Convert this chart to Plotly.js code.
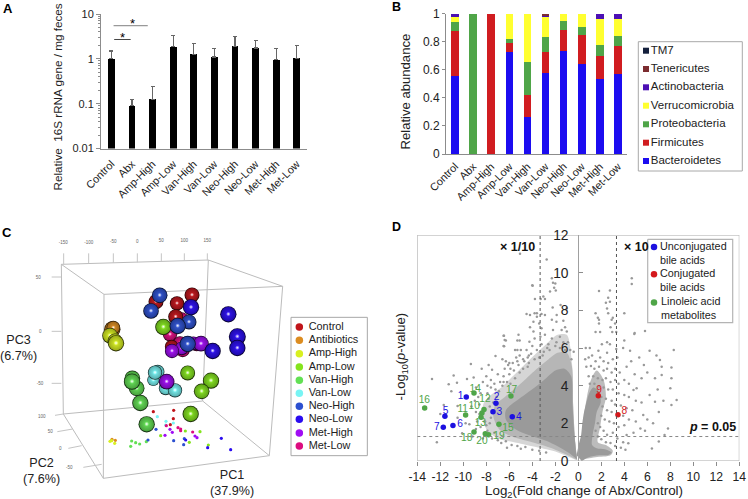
<!DOCTYPE html>
<html><head><meta charset="utf-8">
<script src="https://cdn.plot.ly/plotly-3.0.1.min.js"></script>
<style>html,body{margin:0;padding:0;background:#fff}#c{width:748px;height:499px}</style>
</head><body><div id="c"></div>
<script>
// ---------- Panel A ----------
const groups = ['Control','Abx','Amp-High','Amp-Low','Van-High','Van-Low','Neo-High','Neo-Low','Met-High','Met-Low'];
const rrnaMean = [1,0.09,0.125,1.85,1.27,1.1,1.9,1.75,0.95,1.02];
const rrnaTop  = [1.5,0.125,0.24,3.25,2.2,1.68,3.15,2.55,1.68,2.0];
const sigLowX = [0.14,0.94], sigLowY = [2.7,2.7];
const sigHighX = [0.11,1.77], sigHighY = [5.5,5.5];
const decadeVals = [0.01,0.1,1,10], decadeText = ['0.01','0.1','1','10'];
const minorVals = [0.02,0.03,0.04,0.05,0.06,0.07,0.08,0.09,0.2,0.3,0.4,0.5,0.6,0.7,0.8,0.9,2,3,4,5,6,7,8,9];
// ---------- Panel B ----------
const phyla = ['Bacteroidetes','Firmicutes','Proteobacteria','Verrucomicrobia','Actinobacteria','Tenericutes','TM7'];
const phylaColors = ['#1c0cf0','#d01c20','#4fa548','#ffff30','#4c10b4','#7c2c30','#14203c'];
const bacteroidetes   = [0.555,0.003,0.003,0.725,0.265,0.575,0.735,0.64,0.535,0.57];
const firmicutes      = [0.32,0,0.992,0.065,0.155,0.155,0.15,0.205,0.16,0.2];
const proteobacteria  = [0.065,0.997,0.005,0.03,0.235,0.105,0.06,0.06,0.085,0.07];
const verrucomicrobia = [0.04,0,0,0.18,0.345,0.145,0.055,0.095,0.18,0.12];
const actinobacteria  = [0.02,0,0,0,0,0.005,0,0,0.04,0.04];
const tenericutes     = [0,0,0,0,0,0.012,0,0,0,0];
const tm7             = [0,0,0,0,0,0.003,0,0,0,0];
const phylaValues = [bacteroidetes,firmicutes,proteobacteria,verrucomicrobia,actinobacteria,tenericutes,tm7];
const abundanceTicks = [0,0.2,0.4,0.6,0.8,1];
// ---------- Panel C: projected positions [x, y, apparent diameter] ----------
const pcaGroups = ['Control','Antibiotics','Amp-High','Amp-Low','Van-High','Van-Low','Neo-High','Neo-Low','Met-High','Met-Low'];
const pcaColors = {'Control':'#c0141a','Antibiotics':'#dc8c20','Amp-High':'#d8f020','Amp-Low':'#84e41e','Van-High':'#62e054','Van-Low':'#78f4f4','Neo-High':'#2c50d0','Neo-Low':'#2a0cf0','Met-High':'#a00cf4','Met-Low':'#dc0c80'};
const spheresControl = [[576,240,44],[468,260,44],[531,265,42],[527,305,44],[515,395,40]];
const spheresAntibiotics = [[337,343,48],[340,338,40]];
const spheresAmpHigh = [[330,362,46],[345,378,44],[348,385,48]];
const spheresAmpLow = [[490,336,48],[563,474,44],[633,497,48],[605,529,46],[572,597,48]];
const spheresVanHigh = [[397,490,46],[410,520,46],[396,500,48],[421,564,48],[440,628,48]];
const spheresVanLow = [[473,470,40],[460,495,36],[465,473,42],[497,520,40],[525,526,42]];
const spheresNeoHigh = [[479,241,46],[453,288,46],[567,321,44],[533,333,48],[563,387,48]];
const spheresNeoLow = [[573,277,48],[685,298,48],[712,365,50],[712,399,48],[638,408,48]];
const spheresMetHigh = [[545,400,40],[580,385,40],[603,386,46],[516,408,42],[500,500,46]];
const spheresMetLow = [[545,312,40],[510,358,42],[540,385,42],[590,388,40],[548,405,42]];
const sphereOrder = [['Van-Low',spheresVanLow],['Van-High',spheresVanHigh],['Met-Low',spheresMetLow],['Control',spheresControl],['Amp-Low',spheresAmpLow],['Met-High',spheresMetHigh],['Neo-Low',spheresNeoLow],['Neo-High',spheresNeoHigh],['Antibiotics',spheresAntibiotics],['Amp-High',spheresAmpHigh]];
const floorPoints = {
 'Control':[[460,590],[521,586],[520,611],[511,629]],
 'Antibiotics':[[336,673],[346,676]],
 'Amp-High':[[330,679],[335,677],[344,685]],
 'Amp-Low':[[482,662],[556,648],[600,650],[568,682],[625,690]],
 'Van-High':[[395,678],[407,683],[419,687],[392,694],[439,680]],
 'Van-Low':[[472,605],[498,619],[520,624],[497,630]],
 'Neo-High':[[468,643],[444,675],[521,677],[553,671],[551,689]],
 'Neo-Low':[[557,675],[664,670],[692,704],[623,698]],
 'Met-High':[[510,643],[517,652],[495,661],[585,663],[591,668]],
 'Met-Low':[[499,632],[534,638],[542,642],[542,647],[578,651]]
};
const boxX = [184,625,848,312,184,null,312,310,808,848,null,625,608,190,184,null,190,310,null,608,808];
const boxY = [148,135,214,238,148,null,238,790,722,214,null,135,558,597,148,null,597,790,null,558,722];
const cTickX = [191,191,null,266,266,null,340,340,null,412,412,null,484,484,null,553,553,null,622,622,null,155,184,null,155,184,null,155,184,null,165,190,null,172,218,null,205,245,null,250,305];
const cTickY = [148,115,null,146,115,null,144,115,null,142,115,null,140,115,null,138,115,null,136,115,null,186,186,null,349,349,null,505,505,null,601,597,null,650,642,null,700,692,null,757,748];
const cTickLabelX = [190,266,340,412,484,553,622,115,121,120,125,151,181,208];
const cTickLabelY = [84,84,82,80,79,78,77,190,352,508,605,652,703,760];
const cTickLabels = ['-150','-100','-50','0','50','100','150','50','0','-50','100','50','0','-50'];
const cKeyY = [336,376,416,456,496,535,574,613,654,693];
// ---------- Panel D ----------
const volcanoTicksX = [-14,-12,-10,-8,-6,-4,-2,0,2,4,6,8,10,12,14];
const volcanoTicksXText = ['-14','-12','-10','-8','-6','-4','-2','0','2','4','6','8','10','12','14'];
const volcanoTicksY = [0,2,4,6,8,10,12];
const outerLeftX = [-0.1,-1,-2,-3,-4,-5,-6,-7,-7.9,-8.4,-8.2,-7.6,-6.7,-5.7,-4.7,-3.7,-2.8,-1.8,-1,-0.55,-0.45,-0.3];
const outerLeftY = [0.03,0.25,0.5,0.65,0.78,0.92,1.05,1.2,1.6,2.4,3.1,3.5,3.9,4.5,5.1,5.7,6.2,6.7,6.7,5.2,3,1.2];
const haloLeftX = [-0.1,-1,-2,-3,-4,-5,-6,-6.9,-7.4,-7.2,-6.5,-5.5,-4.5,-3.5,-2.7,-1.8,-1,-0.55,-0.45,-0.3];
const haloLeftY = [0.05,0.33,0.6,0.82,1,1.15,1.35,1.7,2.4,3,3.35,3.85,4.4,4.95,5.35,5.75,5.75,5,3,1.2];
const coreLeftX = [-0.1,-0.8,-1.6,-2.5,-3.5,-4.5,-5.5,-6.3,-6.3,-5.6,-4.6,-3.6,-2.8,-2,-1.2,-0.62,-0.5,-0.35,-0.2];
const coreLeftY = [0.08,0.42,0.72,1,1.22,1.42,1.7,2.2,2.7,3.1,3.55,4,4.4,4.8,4.9,4.5,3,1.5,0.5];
const haloRightX = [0.15,0.4,0.5,0.75,1.1,1.6,2.2,2.4,2.1,1.9,1.7,2.4,3,2.8,1.5,0.5];
const haloRightY = [0.5,1.5,2.4,3.4,4.3,4.8,4.3,3.4,2.6,1.8,1,0.85,0.55,0.3,0.2,0.1];
const coreRightX = [-0.15,0.05,0.25,0.35,0.5,0.7,0.95,1.3,1.8,1.95,1.6,1.45,1.25,1.2,1.6,2.3,2.9,2.6,1.8,0.9,0.3];
const coreRightY = [0.3,0.9,1.4,2,2.6,3.1,3.6,3.9,3.7,3.1,2.6,2,1.4,0.85,0.68,0.62,0.45,0.32,0.3,0.2,0];
const grayPoints = [
[-12.72,4.35],[-11.27,4.07],[-11.04,3.7],[-10.55,4.16],[-10.84,4.54],[-9.68,4.35],[-9.34,5.15],[-9.1,4.44],[-12.3,1],[-11.7,2.98],[-12,2.49],[-10.5,2.92],[-9.8,2],[-10.5,2.3],[-10.1,1.47],[-9.47,1.95],[-8.4,4.9],[-7.8,5.1],[-7.2,5.58],[-7.5,4.84],[-6.5,6.65],[-6.3,6.4],[-6.45,6.09],[-5.1,6.4],[-5.3,5.9],[-6.6,5.4],[-6.3,5.3],[-6,5.2],[-5.4,5.5],
[-5.07,11],[-2.75,10.7],[-3.97,9.3],[-2.3,9.7],[-2,9.43],[-2.46,9],[-3.04,8.73],[-3.6,7.84],[-4.5,7.8],[-1,8.1],[-1.88,7.75],[-4,9.33],[-2.2,9.47],[-2.1,9.2],[-1.96,9.05],[-3.77,8.6],[-3.27,8.6],[-2.9,8.6],[-2.23,8.15],[-1.54,8.28],[-4.2,7.75],[-3.8,7.84],[-3.6,7.66],[-3.2,7.8],[-2.9,7.75],[-2.3,7.5],[-1.9,7.4],[-1.3,7.45],[-3.9,7.4],[-3.4,7.3],[-4.2,7.1],[-3.9,6.87],[-3.2,7.05],[-1.15,7.1],[-1.45,6.95],[-2.2,6.95],[-2.9,6.7],[-4.25,6.33],[-6.46,6.65],[-6.4,6.42],[-5.2,6.7],[-5.3,6.4],[-6.5,6.1],[-3.8,6.5],[-3.3,6.6],[-2.3,6.5],[-1.6,6.6],[-1,6.87],[-0.9,6.3],[-5.5,5.9],[-5,5.9],[-4.5,5.9],[-3.6,5.9],[-6.1,5.1],[-5.7,5.2],[-5.1,5.6],[-4.1,5.7],[-3,5.8],[-2.5,5.9],[-2,6.1],[-1.6,6],[-1.15,5.9],
[-8.9,3.9],[-8.3,4.2],[-8,4.5],[-7.6,4.3],[-7,4.6],[-6.8,4.2],[-6.4,4.9],[-6,4.6],[-5.6,4.8],[-5.2,5.1],[-4.7,5.3],[-4.3,5.2],[-3.8,5.4],[-3.4,5.5],[-8.7,3.4],[-7.9,3.6],[-7.6,3.9],[-7.2,3.8],[-6.9,3.7],[-6.6,4],[-8.6,3],[-7.8,3.3],[-9.3,2.9],[-8.9,2.6],[-8.8,2.1],[-8.5,1.8],[-8.9,1.7],[-8,1.9],[-7.9,1.6],[-7.5,1.2],[-7,1.1],[-6.7,0.95],[-6.3,1.05],[-5.8,0.85],[-5.3,0.8],[-5,0.65],[-4.6,0.75],[-4,0.6],[-3.4,0.55],[-2.8,0.45],[-8.3,1.2],[-9.2,1.3],[-6.2,0.7],
[-6.5,4.5],[-6.2,4.2],[-5.9,4.1],[-5.5,4.4],[-5.1,4.7],[-4.8,4.9],[-4.4,5],[-7.1,3.4],[-7.4,3.1],[-7.7,2.9],[-7.6,2.3],[-7.7,2],[-7.3,1.5],[-8.6,2.5],[-8.1,2.1],[-3.1,5.6],[-2.7,6],[-4.3,5.6],[-4.8,5.4],[-5.3,5.3],[-5.9,4.9],[-6.5,4.2],[-7.3,4.1],[-7.9,4],[-8.5,3.6],[-9,3.2],
[1.8,9.03],[2.75,9.05],[2.6,8.67],[2.4,8.4],[2.75,8.45],[2.5,8.1],[1.5,7.85],[1.7,7.6],[1.8,7.5],[2.6,7.85],[4,7.85],[3,7.6],[1.8,7.3],[2.9,7.5],[3.2,7.3],[1.9,6.85],[1.5,6.85],[2.8,7.1],[2.95,6.85],[3.3,6.85],[4.9,6.8],[5.8,6.9],[4,6.4],[2.5,6.3],[2.75,6.2],[2.05,6.2],[0.65,6],[1,6],[1.75,5.85],[2.5,5.75],[3.3,5.95],[3.9,6],[4.5,5.85],[6.2,5.85],[6.8,5.6],[8.3,5.9],[4.65,9.7],[4.65,9.4],[4.87,6.74],[7.1,5.36],[7.25,5],[8.1,4.96],[7.25,4.57],[6.67,4.39],[8.55,3.24],[8,3.86],[8.1,4.39],[6.67,3.15],[6.2,3.5],[5.07,3.86],[4.8,3.77],[5.65,2.44],[8.1,2.97],[7.8,1.73],[7.5,1.38],[7,1.03],[6.4,0.67],[4.35,0.94],[3.9,1],[4.2,1.38],[5.4,1.73],
[0.6,5.4],[0.9,5.5],[1.2,5.6],[1.5,5.3],[1.9,5.5],[2.2,5.3],[2.6,5.2],[3,5.4],[3.4,5.5],[0.7,5],[1.1,5.05],[1.4,4.9],[1.8,5],[2.2,4.8],[2.5,4.9],[2.9,4.7],[3.2,4.9],[3.6,4.7],[4.2,5],[4.6,5.3],[5.3,5.5],[5.7,5.1],[6,4.7],[5.5,4.4],[4.9,4.6],[0.9,4.5],[1.3,4.5],[1.7,4.4],[2.1,4.3],[2.4,4.4],[2.8,4.2],[3.2,4.3],[3.5,4.1],[4,4.3],[4.4,4.1],[1,4.1],[1.4,4.1],[1.8,3.95],[2.2,3.9],[2.6,3.8],[3,3.8],[3.5,3.6],[4,3.5],[4.4,3.4],[5,3.2],[5.5,3.1],[2,3.4],[2.4,3.3],[2.9,3.2],[3.2,3],[3.7,2.95],[4.2,2.8],[4.7,2.7],[2.1,2.9],[2.5,2.7],[2.9,2.6],[3.9,2.4],[4.4,2.2],[5,2.1],[6,2.2],[2,2.4],[2.3,2.2],[2.7,2.1],[3.1,2],[3.5,1.8],[4,1.9],[4.8,1.5],[5.8,1.6],[6.5,2],[7,2.6],[7.4,3.2],[6.9,3.8],[1.7,2],[1.9,1.8],[2.2,1.6],[2.5,1.4],[3,1.5],[3.4,1.2],[1.5,1.6],[1.7,1.3],[2,1.15],[2.4,1],[2.8,0.95],[3.2,0.8],[3.7,0.7],[4.1,0.6],
[-0.4,5.8],[-0.6,5.4],[-0.7,5.9],[-1.3,6.3],[-1.9,6.3],[-2.6,6.2],[-3.2,6.2],[-4,6.1],[-4.4,5.5]
];
const unconjX = [-9.74,-7.16,-7.42,-5.74,-11.6,-10.9,-11.74];
const unconjY = [3.4,3.06,2.62,2.35,2.37,1.89,1.79];
const unconjIds = ['1','2','3','4','5','6','7'];
const unconjLabelX = [-10.23,-7.1,-6.87,-5.16,-11.54,-10.29,-12.29];
const unconjLabelY = [3.43,3.38,2.57,2.32,2.64,1.95,1.79];
const conjX = [3.45,1.74], conjY = [2.46,3.47], conjIds = ['8','9'];
const conjLabelX = [4,1.8], conjLabelY = [2.62,3.77];
const linoleicX = [-8.38,-9.8,-8.2,-8.46,-9.07,-6.9,-13.36,-5.86,-9.07,-7.8,-8.09];
const linoleicY = [2.55,2.44,2.74,2.32,3.61,1.95,2.81,3.45,1.54,1.4,1.45];
const linoleicIds = ['10','11','12','13','14','15','16','17','18','19','20'];
const linoleicLabelX = [-9.05,-10.05,-8.12,-8.52,-8.96,-6.12,-13.39,-5.8,-9.7,-6.9,-8.38];
const linoleicLabelY = [2.9,2.73,3.27,2.01,3.82,1.75,3.2,3.77,1.2,1.31,1.03];
const foldLines = [-3.32,3.32];
const pLine = 1.3;

// ---------- helpers ----------
const F = 'Liberation Sans, Arial, sans-serif';
const W = 748, H = 499;
const dx = (a,b)=>[a/W,b/W];
const dy = (t,b)=>[1-b/H,1-t/H];
const AX = '#8c8c8c';
const traces = [];

// Panel A
traces.push({type:'bar',x:groups.map((_,i)=>i),y:rrnaMean,width:0.33,marker:{color:'#000'},xaxis:'x',yaxis:'y',
  error_y:{type:'data',symmetric:false,array:rrnaTop.map((t,i)=>t-rrnaMean[i]),arrayminus:rrnaMean.map(()=>0),color:'#666',thickness:1.2,width:2}});
traces.push({type:'scatter',mode:'lines',x:sigLowX,y:sigLowY,line:{color:'#444',width:1},xaxis:'x',yaxis:'y'});
traces.push({type:'scatter',mode:'lines',x:sigHighX,y:sigHighY,line:{color:'#999',width:1.2},xaxis:'x',yaxis:'y'});

// Panel B
phyla.forEach((p,k)=>traces.push({type:'bar',name:p,x:groups,y:phylaValues[k],marker:{color:phylaColors[k]},width:0.42,xaxis:'x2',yaxis:'y2'}));

// Panel C
traces.push({type:'scatter',mode:'lines',x:boxX,y:boxY,line:{color:'#bcbcbc',width:1},xaxis:'x3',yaxis:'y3',connectgaps:false});
traces.push({type:'scatter',mode:'lines',x:cTickX,y:cTickY,line:{color:'#c4c4c4',width:1},xaxis:'x3',yaxis:'y3',connectgaps:false});
traces.push({type:'scatter',mode:'text',x:cTickLabelX,y:cTickLabelY,text:cTickLabels,textfont:{family:F,size:4.5,color:'#666'},xaxis:'x3',yaxis:'y3'});
pcaGroups.forEach(g=>{
  traces.push({type:'scatter',mode:'markers',x:floorPoints[g].map(p=>p[0]),y:floorPoints[g].map(p=>p[1]),
    marker:{size:3.2,color:pcaColors[g]},xaxis:'x3',yaxis:'y3'});
});
function shade(hex,f){const n=parseInt(hex.slice(1),16);const c=[n>>16,(n>>8)&255,n&255].map(v=>f<1?Math.round(v*f):Math.round(v+(255-v)*(f-1)));return `rgb(${c})`;}
sphereOrder.forEach(([g,list])=>{
  const base=pcaColors[g];
  const xs=[],ys=[],sz=[],col=[],grad=[];
  list.forEach(s=>{
    const d=s[2]/3*1.02;
    xs.push(s[0],s[0],s[0]); ys.push(s[1],s[1]-0.01*s[2],s[1]-0.02*s[2]);
    sz.push(d,d*0.9,d*0.28);
    col.push(shade(base,0.2),shade(base,0.72),base);
    grad.push(shade(base,0.45),shade(base,1.05),'#ffffff');
  });
  traces.push({type:'scatter',mode:'markers',x:xs,y:ys,marker:{size:sz,opacity:1,color:col,gradient:{type:'radial',color:grad},line:{width:0}},xaxis:'x3',yaxis:'y3'});
});
// Panel C key
traces.push({type:'scatter',mode:'lines',x:[873,1102,1102,873,873],y:[307,307,722,722,307],line:{color:'#a8a8a8',width:1},xaxis:'x3',yaxis:'y3'});
traces.push({type:'scatter',mode:'markers',x:cKeyY.map(()=>898),y:cKeyY,marker:{size:7.5,color:pcaGroups.map(g=>pcaColors[g])},xaxis:'x3',yaxis:'y3'});
traces.push({type:'scatter',mode:'text',x:cKeyY.map(()=>926),y:cKeyY,text:pcaGroups,textposition:'middle right',
  textfont:{family:F,size:10.9,color:'#222'},xaxis:'x3',yaxis:'y3',cliponaxis:false});

// Panel D
const cloud=(x,y,c)=>traces.push({type:'scatter',mode:'lines',x,y,fill:'toself',fillcolor:c,line:{width:0,shape:'spline',smoothing:0.8},xaxis:'x4',yaxis:'y4'});
cloud(outerLeftX,outerLeftY,'#d6d6d6');
cloud(haloLeftX,haloLeftY,'#b6b6b6');
cloud(haloRightX,haloRightY,'#bcbcbc');
cloud(coreLeftX,coreLeftY,'#9a9a9a');
cloud(coreRightX,coreRightY,'#9a9a9a');
traces.push({type:'scatter',mode:'markers',x:grayPoints.map(p=>p[0]),y:grayPoints.map(p=>p[1]),marker:{size:2.5,color:'#999'},xaxis:'x4',yaxis:'y4'});
const dSets=[[unconjX,unconjY,'#1c10e0',unconjIds,unconjLabelX,unconjLabelY],[conjX,conjY,'#d4181c',conjIds,conjLabelX,conjLabelY],[linoleicX,linoleicY,'#4fa548',linoleicIds,linoleicLabelX,linoleicLabelY]];
dSets.forEach(s=>{
  traces.push({type:'scatter',mode:'markers',x:s[0],y:s[1],marker:{size:5.5,color:s[2]},xaxis:'x4',yaxis:'y4'});
  traces.push({type:'scatter',mode:'text',x:s[4],y:s[5],text:s[3],textfont:{family:F,size:10.2,color:s[2]},xaxis:'x4',yaxis:'y4'});
});

// Keys for panels B and D, on a page-wide axis pair so they sit above the plots
const bKeyY = [161,142.7,124.3,105.7,87.3,69,50.7];
traces.push({type:'scatter',mode:'lines',x:[638.3,742.3,742.3,638.3,638.3],y:[41.7,41.7,171,171,41.7],line:{color:'#a8a8a8',width:1},xaxis:'x5',yaxis:'y5'});
traces.push({type:'scatter',mode:'markers+text',x:phyla.map(()=>646),y:bKeyY,text:phyla,textposition:'middle right',
  textfont:{family:F,size:11.5,color:'#222'},marker:{size:6,symbol:'square',color:phylaColors},xaxis:'x5',yaxis:'y5',cliponaxis:false});
traces.push({type:'scatter',mode:'lines',x:[647.7,732.7,732.7,647.7,647.7],y:[239.3,239.3,322.7,322.7,239.3],fill:'toself',fillcolor:'#fff',line:{color:'#b4b4b4',width:1.2},xaxis:'x5',yaxis:'y5'});
const dKeyNames=['Unconjugated<br>bile acids','Conjugated<br>bile acids','Linoleic acid<br>metabolites'];
const dKeyY=[247,274.3,302.5], dTextY=[254,281,309];
traces.push({type:'scatter',mode:'markers',x:[654,654,654],y:dKeyY,marker:{size:6.5,color:dSets.map(s=>s[2])},xaxis:'x5',yaxis:'y5'});
traces.push({type:'scatter',mode:'text',x:[660,660,661],y:dTextY,text:dKeyNames,textposition:'middle right',textfont:{family:F,size:10.8,color:'#222'},xaxis:'x5',yaxis:'y5',cliponaxis:false});

const hidden={visible:false,fixedrange:true};
const tfont={family:F,size:10.8,color:'#222'};
const layout={
  width:W,height:H,margin:{l:0,r:0,t:0,b:0},paper_bgcolor:'#fff',plot_bgcolor:'rgba(0,0,0,0)',showlegend:false,barmode:'stack',hovermode:false,
  xaxis:{domain:dx(101,307),anchor:'y',range:[-0.5,9.5],tickmode:'array',tickvals:groups.map((_,i)=>i),ticktext:groups,tickangle:-45,tickfont:tfont,ticklabelstandoff:4,showgrid:false,zeroline:false,showline:true,linecolor:AX,linewidth:1,ticks:''},
  yaxis:{domain:dy(14,148.5),anchor:'x',type:'log',range:[-2,1],tickmode:'array',tickvals:decadeVals,ticktext:decadeText,tickfont:{family:F,size:11,color:'#222'},showgrid:false,zeroline:false,showline:true,linecolor:AX,ticks:'outside',ticklen:4,tickcolor:AX,
    minor:{tickmode:'array',tickvals:minorVals,ticks:'outside',ticklen:2,tickcolor:AX,showgrid:false}},
  xaxis2:{domain:dx(446,627),anchor:'y2',type:'category',categoryorder:'array',categoryarray:groups,tickangle:-45,tickfont:tfont,ticklabelstandoff:1,showgrid:false,zeroline:false,showline:true,linecolor:AX,ticks:''},
  yaxis2:{domain:dy(13.7,154),anchor:'x2',range:[0,1],tickmode:'array',tickvals:abundanceTicks,ticktext:['0','0.2','0.4','0.6','0.8','1'],tickfont:{family:F,size:12,color:'#222'},showgrid:false,zeroline:false,showline:true,linecolor:AX,ticks:'outside',ticklen:3,tickcolor:AX},
  xaxis3:Object.assign({domain:dx(0,370),range:[0,1110],anchor:'y3'},hidden),
  yaxis3:Object.assign({domain:dy(215,499),range:[852,0],anchor:'x3'},hidden),
  xaxis4:{domain:dx(417.3,739.3),anchor:'y4',range:[-14,14],tickmode:'array',tickvals:volcanoTicksX,ticktext:volcanoTicksXText,tickfont:{family:F,size:12.2,color:'#222'},showgrid:false,zeroline:false,showline:false,ticks:'outside',ticklen:4,tickcolor:AX},
  yaxis4:{domain:dy(235,461),anchor:'free',position:578.3/W,range:[0,12],tickmode:'array',tickvals:volcanoTicksY,tickfont:{family:F,size:13.8,color:'#222'},showgrid:false,zeroline:false,showline:true,linecolor:'#a0a0a0',linewidth:1,ticks:'inside',ticklen:4,tickcolor:AX,ticklabelstandoff:7},
  xaxis5:Object.assign({domain:[0,1],range:[0,W],anchor:'y5'},hidden),
  yaxis5:Object.assign({domain:[0,1],range:[H,0],anchor:'x5'},hidden),
  shapes:[
    {type:'rect',xref:'x4',yref:'y4',x0:-14,x1:14,y0:0,y1:12,line:{color:'#a8a8a8',width:1},layer:'below'},
    {type:'line',xref:'x4',yref:'y4',x0:foldLines[0],x1:foldLines[0],y0:0,y1:12,line:{color:'#555',width:1,dash:'dot'}},
    {type:'line',xref:'x4',yref:'y4',x0:foldLines[1],x1:foldLines[1],y0:0,y1:12,line:{color:'#555',width:1,dash:'dot'}},
    {type:'line',xref:'x4',yref:'y4',x0:-14,x1:14,y0:pLine,y1:pLine,line:{color:'#888',width:1,dash:'dot'}}
  ],
  annotations:[]
};
function lbl(x,y,text,o={}){layout.annotations.push(Object.assign({xref:'x5',yref:'y5',x,y,text,showarrow:false,xanchor:'center',yanchor:'middle',font:{family:F,size:o.size||11,color:o.color||'#222'}},o.extra||{}));}
lbl(8,8,'<b>A</b>',{size:13,color:'#000'});
lbl(396,7,'<b>B</b>',{size:12.5,color:'#000'});
lbl(7,232,'<b>C</b>',{size:13,color:'#000'});
lbl(396,227,'<b>D</b>',{size:12.5,color:'#000'});
lbl(57,97.5,'Relative  16S rRNA gene / mg feces',{size:11.7,extra:{textangle:-90}});
lbl(122,37,'*',{size:13,color:'#000'});
lbl(132,23,'*',{size:13,color:'#000'});
lbl(404.5,92,'Relative abundance',{size:13.1,extra:{textangle:-90}});
lbl(18,348,'PC3<br>(6.7%)',{size:12.6});
lbl(41.7,471,'PC2<br>(7.6%)',{size:12.6});
lbl(231.7,483,'PC1<br>(37.9%)',{size:12.6});
lbl(401.7,356.7,'-Log<sub>10</sub>(<i>p</i>-value)',{size:13,extra:{textangle:-90}});
lbl(584,491,'Log<sub>2</sub>(Fold change of Abx/Control)',{size:13.4});
lbl(517.5,247,'<b>× 1/10</b>',{size:12.5,color:'#111'});
lbl(636,247,'<b>× 10</b>',{size:12.5,color:'#111'});
lbl(712,427,'<b><i>p</i> = 0.05</b>',{size:12.5,color:'#111'});
Plotly.newPlot('c',traces,layout,{staticPlot:true,displayModeBar:false});
</script></body></html>
